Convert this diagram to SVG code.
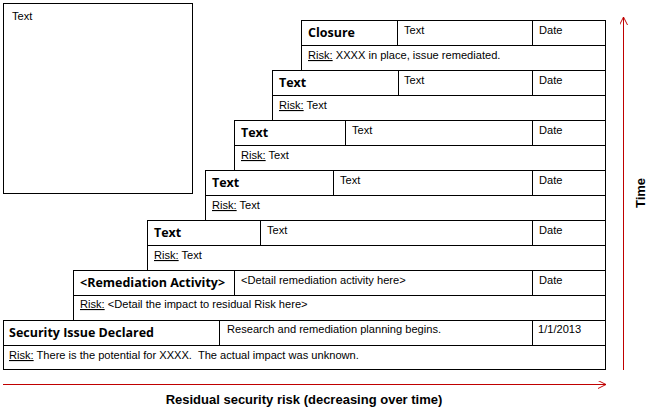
<svg xmlns="http://www.w3.org/2000/svg" width="651" height="411" viewBox="0 0 651 411">
<style>
.box{fill:#fff;stroke:#000;stroke-width:1}
.ln{stroke:#000;stroke-width:1;fill:none}
.t{font-family:"Liberation Sans",Arial,sans-serif;font-size:11.1px;fill:#000;white-space:pre}
.h{font-family:"Open Sans","Liberation Sans",sans-serif;font-size:12.5px;font-weight:bold;fill:#000}
.u{text-decoration:underline}
.ax{font-family:"Liberation Sans",Arial,sans-serif;font-size:13px;font-weight:bold;fill:#000}
.arr{stroke:#c00000;stroke-width:1;fill:none}
</style>
<defs>
<marker id="ah" viewBox="0 0 10 10" refX="10" refY="5" markerWidth="8" markerHeight="8" markerUnits="userSpaceOnUse" orient="auto">
<path d="M0,0 L10,5 L0,10" fill="none" stroke="#c00000" stroke-width="1.2"/>
</marker>
</defs>
<rect fill="#fff" x="0" y="0" width="651" height="411"/>
<g id="notes">
<rect class="box" x="3.5" y="3.5" width="189" height="190"/>
<text class="t" x="12" y="20">Text</text>
</g>
<g id="step7">
<rect class="box" x="301.5" y="20.5" width="304" height="50"/>
<path class="ln" d="M301.5,45.5H605.5M397.5,20.5V45.5M532.5,20.5V45.5"/>
<text class="h" x="308" y="37">Closure</text>
<text class="t" x="404" y="34">Text</text>
<text class="t" x="539" y="34">Date</text>
<text class="t" x="308" y="59"><tspan class="u">Risk:</tspan> XXXX in place, issue remediated.</text>
</g>
<g id="step6">
<rect class="box" x="272.5" y="70.5" width="333" height="50"/>
<path class="ln" d="M272.5,95.5H605.5M398.5,70.5V95.5M532.5,70.5V95.5"/>
<text class="h" x="279" y="87">Text</text>
<text class="t" x="404" y="84">Text</text>
<text class="t" x="539" y="84">Date</text>
<text class="t" x="279" y="109"><tspan class="u">Risk:</tspan> Text</text>
</g>
<g id="step5">
<rect class="box" x="234.5" y="120.5" width="371" height="50"/>
<path class="ln" d="M234.5,145.5H605.5M345.5,120.5V145.5M532.5,120.5V145.5"/>
<text class="h" x="241" y="137">Text</text>
<text class="t" x="352" y="134">Text</text>
<text class="t" x="539" y="134">Date</text>
<text class="t" x="241" y="159"><tspan class="u">Risk:</tspan> Text</text>
</g>
<g id="step4">
<rect class="box" x="205.5" y="170.5" width="400" height="50"/>
<path class="ln" d="M205.5,195.5H605.5M333.5,170.5V195.5M532.5,170.5V195.5"/>
<text class="h" x="212" y="187">Text</text>
<text class="t" x="340" y="184">Text</text>
<text class="t" x="539" y="184">Date</text>
<text class="t" x="212" y="209"><tspan class="u">Risk:</tspan> Text</text>
</g>
<g id="step3">
<rect class="box" x="147.5" y="220.5" width="458" height="50"/>
<path class="ln" d="M147.5,245.5H605.5M260.5,220.5V245.5M532.5,220.5V245.5"/>
<text class="h" x="154" y="237">Text</text>
<text class="t" x="267" y="234">Text</text>
<text class="t" x="539" y="234">Date</text>
<text class="t" x="154" y="259"><tspan class="u">Risk:</tspan> Text</text>
</g>
<g id="step2">
<rect class="box" x="73.5" y="270.5" width="532" height="50"/>
<path class="ln" d="M73.5,295.5H605.5M234.5,270.5V295.5M532.5,270.5V295.5"/>
<text class="h" x="80" y="287">&lt;Remediation Activity&gt;</text>
<text class="t" x="241" y="284">&lt;Detail remediation activity here&gt;</text>
<text class="t" x="539" y="284">Date</text>
<text class="t" x="80" y="308"><tspan class="u">Risk:</tspan> &lt;Detail the impact to residual Risk here&gt;</text>
</g>
<g id="step1">
<rect class="box" x="3.5" y="320.5" width="602" height="49"/>
<path class="ln" d="M3.5,345.5H605.5M219.5,320.5V345.5M532.5,320.5V345.5"/>
<text class="h" x="9" y="337">Security Issue Declared</text>
<text class="t" x="227" y="333">Research and remediation planning begins.</text>
<text class="t" x="538" y="333">1/1/2013</text>
<text class="t" x="9" y="359" xml:space="preserve"><tspan class="u">Risk:</tspan> There is the potential for XXXX.  The actual impact was unknown.</text>
</g>
<g id="connectors">
<line class="arr" x1="3" y1="384.5" x2="606" y2="384.5" marker-end="url(#ah)"/>
<line class="arr" x1="623.5" y1="370" x2="623.5" y2="17" marker-end="url(#ah)"/>
</g>
<text class="ax" x="304" y="404" text-anchor="middle">Residual security risk (decreasing over time)</text>
<text class="ax" x="0" y="0" text-anchor="middle" transform="translate(645,193) rotate(-90)">Time</text>
</svg>
